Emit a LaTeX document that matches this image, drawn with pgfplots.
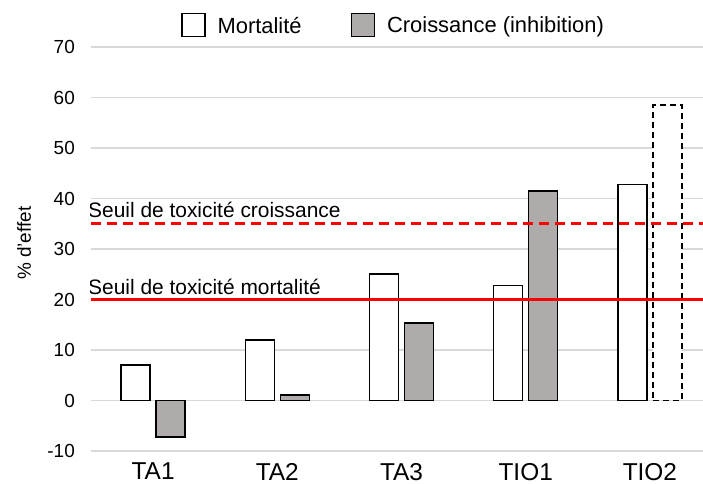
\documentclass[border=0pt]{standalone}
\usepackage{pgfplots}
\pgfplotsset{compat=1.18}
\usepackage{fontspec}
\setmainfont{Liberation Sans}
\definecolor{barg}{RGB}{175,171,171}
\definecolor{gridg}{RGB}{217,217,217}

\pgfplotstableread{
x mort
0 7
1 12
2 25
3 22.8
4 42.8
}\mortdata
\pgfplotstableread{
x crois
0 -7.2
1 1.1
2 15.3
3 41.5
}\croisdata
\pgfplotstableread{
x crois
4 58.5
}\croisdashed

\begin{document}
\begin{tikzpicture}[x=1bp,y=1bp]
\path[use as bounding box] (-91,-33) rectangle (612,451);
\begin{axis}[
  at={(0,0)}, anchor=south west,
  scale only axis, width=621bp, height=404bp,
  xmin=-0.5, xmax=4.5, ymin=-10, ymax=70,
  ytick={-10,0,10,20,30,40,50,60,70},
  xtick={0,1,2,3,4},
  xticklabels={TA1,TA2,TA3,TIO1,TIO2},
  ymajorgrids,
  grid style={gridg, line width=1.2bp},
  axis line style={draw=none},
  major tick style={draw=none},
  /pgf/number format/assume math mode=true,
  yticklabel style={font=\fontsize{19}{22}\selectfont, inner sep=0pt, anchor=east, xshift=-16bp},
  xticklabel style={font=\fontsize{24.5}{28}\selectfont, inner sep=0pt, anchor=north, yshift=-12bp},
  ylabel={\% d'effet},
  ylabel style={font=\fontsize{19}{22}\selectfont, at={(axis description cs:-0.1079,0.514)}, anchor=center},
  legend columns=2,
  legend style={draw=none, fill=none, at={(axis description cs:0.4855,1.054)}, anchor=center,
    font=\fontsize{22}{26}\selectfont, inner sep=0pt, outer sep=0pt,
    nodes={inner sep=0pt},
    /tikz/every odd column/.style={column sep=12bp},
    /tikz/every even column/.style={column sep=49bp}},
  legend image code/.code={\draw[#1,solid] (0bp,-11bp) rectangle (23bp,12bp);},
]
\addplot[ybar, bar width=29bp, bar shift=-17.5bp, draw=black, fill=white, line width=1.5bp]
  table[x=x, y=mort] {\mortdata};
\addlegendentry{Mortalité}
\addplot[ybar, bar width=29bp, bar shift=17.5bp, draw=black, fill=barg, line width=1.5bp]
  table[x=x, y=crois] {\croisdata};
\addlegendentry{Croissance (inhibition)}
\addplot[ybar, bar width=29bp, bar shift=17.5bp, draw=black, fill=white, line width=1.5bp, dash pattern=on 6bp off 4bp, forget plot]
  table[x=x, y=crois] {\croisdashed};
\addplot[red, line width=2.5bp, forget plot] coordinates {(-0.5,20) (4.5,20)};
\addplot[red, line width=2.5bp, dash pattern=on 10bp off 6bp, forget plot] coordinates {(-0.5,35) (4.5,35)};
\node[anchor=base west, inner sep=0pt, font=\fontsize{21}{25}\selectfont, xshift=-3bp, yshift=5bp] at (axis cs:-0.5,20) {Seuil de toxicité mortalité};
\node[anchor=base west, inner sep=0pt, font=\fontsize{21}{25}\selectfont, xshift=-3bp, yshift=6bp] at (axis cs:-0.5,35) {Seuil de toxicité croissance};
\end{axis}
\end{tikzpicture}
\end{document}
